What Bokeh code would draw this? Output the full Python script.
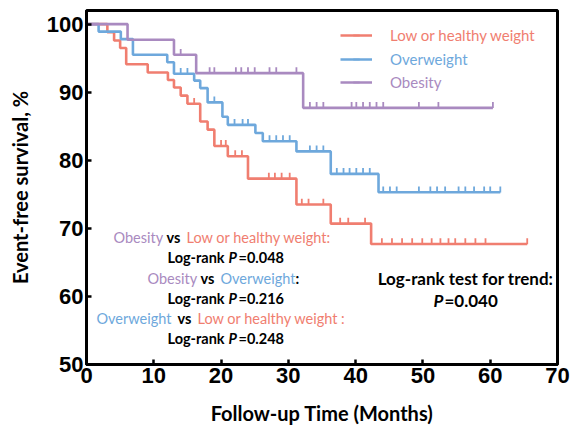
import numpy as np
from bokeh.plotting import figure
from bokeh.models import Range1d, Label, Legend, LegendItem, FixedTicker
from bokeh.embed import file_html
from bokeh.resources import INLINE

# ---------------- data ----------------
low_t = [0, 3.1, 4.1, 5.0, 5.9, 9.1, 12.1, 13.0, 14.0, 15.0, 16.9, 18.0, 19.0, 21.0, 24.0, 31.2, 36.3, 42.3, 65.5]
low_s = [100, 98.8, 97.6, 96.5, 94.1, 92.9, 91.8, 90.7, 89.5, 88.3, 85.7, 84.5, 82.1, 80.6, 77.3, 73.5, 70.7, 67.7, 67.7]
low_cens = [16.0, 20.0, 20.7, 22.1, 23.1, 27.1, 28.0, 29.0, 30.2, 32.0, 33.0, 35.2, 37.7, 38.9, 41.4,
            43.9, 45.4, 46.9, 48.4, 49.9, 51.3, 52.6, 53.8, 54.8, 56.3, 57.8, 59.3, 65.5]

over_t = [0, 1.8, 5.1, 6.9, 12.0, 13.0, 16.0, 16.9, 18.0, 20.2, 21.0, 25.1, 26.2, 31.2, 36.3, 43.4, 61.5]
over_s = [100, 98.9, 97.8, 95.5, 94.4, 92.7, 91.7, 90.6, 88.5, 86.4, 85.2, 84.0, 82.8, 81.3, 78.0, 75.3, 75.3]
over_cens = [14.0, 15.0, 19.0, 22.0, 23.2, 24.0, 27.2, 28.2, 29.2, 30.2, 33.2, 34.2, 35.2,
             37.2, 38.2, 39.1, 40.1, 41.1, 42.1, 44.1, 45.1, 46.1, 49.4, 51.1, 52.1, 53.3,
             55.3, 56.3, 57.6, 59.1, 60.0, 61.5]

obes_t = [0, 6.1, 13.0, 16.3, 32.2, 60.4]
obes_s = [100, 97.7, 95.5, 92.8, 87.7, 87.7]
obes_cens = [14.0, 18.3, 19.0, 22.2, 23.0, 24.0, 25.0, 27.2, 28.2, 31.2,
             33.2, 34.2, 35.2, 39.4, 40.1, 41.1, 42.1, 43.1, 44.1, 49.4, 52.3, 60.4]

group_names = ["Low or healthy weight", "Overweight", "Obesity"]
x_ticks = [0, 10, 20, 30, 40, 50, 60, 70]
y_ticks = [50, 60, 70, 80, 90, 100]

RED = "#F07E70"
BLUE = "#6EA8DC"
PURPLE = "#A98AC0"

# ---------------- figure ----------------
FL, FR, FT, FB = 86, 557, 10, 364
X_END, Y_START, Y_END = 70, 50, 102
p = figure(width=573, height=436, output_backend="svg", toolbar_location=None,
           x_range=Range1d(0, X_END), y_range=Range1d(Y_START, Y_END),
           min_border_left=FL, min_border_right=573 - FR, min_border_top=FT,
           min_border_bottom=436 - FB)
p.frame_width = FR - FL
p.frame_height = FB - FT
p.xgrid.visible = False
p.ygrid.visible = False
p.outline_line_color = "black"
p.outline_line_width = 3
p.background_fill_color = "white"
p.border_fill_color = "white"


def px2x(px):
    return (px - FL) / (FR - FL) * X_END


def py2y(py):
    return Y_START + (FB - py) / (FB - FT) * (Y_END - Y_START)


def surv_at(ts, ss, t):
    v = ss[0]
    for ti, si in zip(ts, ss):
        if ti <= t:
            v = si
    return v


legend_renderers = []
for ts, ss, cens, col in [(low_t, low_s, low_cens, RED), (over_t, over_s, over_cens, BLUE),
                          (obes_t, obes_s, obes_cens, PURPLE)]:
    r1 = p.step(ts, ss, mode="after", line_color=col, line_width=2.6)
    cy = [surv_at(ts, ss, c) + 0.42 for c in cens]
    r2 = p.scatter(cens, cy, marker="dash", angle=np.pi / 2, size=6, line_color=col,
                   line_width=1.8)
    legend_renderers.append((r1, r2, col))

# axes
for ax in (p.xaxis[0], p.yaxis[0]):
    ax.axis_line_width = 3
    ax.axis_line_color = "black"
    ax.major_tick_in = 5
    ax.major_tick_out = 0
    ax.major_tick_line_width = 2.5
    ax.minor_tick_line_color = None
    ax.major_label_text_font = "Liberation Sans"
    ax.major_label_text_font_style = "bold"
    ax.major_label_text_font_size = "22px"
    ax.major_label_text_color = "black"
    ax.axis_label_text_font = "Lato"
    ax.axis_label_text_font_style = "bold"
    ax.axis_label_text_font_size = "20px"
    ax.axis_label_text_color = "black"
p.xaxis.ticker = FixedTicker(ticks=x_ticks)
p.yaxis.ticker = FixedTicker(ticks=y_ticks)
p.xaxis.axis_label = "Follow-up Time (Months)"
p.yaxis.axis_label = "Event-free survival, %"
p.xaxis.major_label_standoff = 3
p.yaxis.major_label_standoff = 3
p.xaxis.axis_label_standoff = 15
p.yaxis.axis_label_standoff = 12

# legends (one per group to allow coloured labels)
leg_rows = [36, 60, 83]
for (r1, r2, col), name, row in zip(legend_renderers, group_names, leg_rows):
    lg = Legend(items=[LegendItem(label=name, renderers=[r1, r2])],
                location=(340 - FL, FB - row - 8), glyph_width=32, glyph_height=16,
                label_height=16, label_standoff=18, padding=0, margin=0, spacing=0,
                border_line_alpha=0, background_fill_alpha=0,
                label_text_font="Lato", label_text_font_size="15px",
                label_text_color=col)
    p.add_layout(lg, "center")


def lab(px, py, text, color="black", style="normal", size="14.5px", align="left"):
    p.add_layout(Label(x=px2x(px), y=py2y(py), text=text, text_color=color,
                       text_font="Lato", text_font_style=style, text_font_size=size,
                       text_align=align, text_baseline="middle"))


# comparison annotations
lab(113, 237, "Obesity", PURPLE)
lab(166, 237, "vs", style="bold")
lab(186, 237, "Low or healthy weight:", RED)
for yy, pv in [(257, "=0.048"), (298, "=0.216"), (338, "=0.248")]:
    lab(167, yy, "Log-rank", style="bold")
    lab(228, yy, "P", style="bold italic")
    lab(238, yy, pv, style="bold")
lab(147, 278, "Obesity", PURPLE)
lab(200, 278, "vs", style="bold")
lab(220, 278, "Overweight", BLUE)
lab(295, 278, ":", style="bold")
lab(96, 318, "Overweight", BLUE)
lab(177, 318, "vs", style="bold")
lab(197, 318, "Low or healthy weight :", RED)

lab(465, 278, "Log-rank test for trend:", style="bold", size="17px", align="center")
lab(433, 300, "P", style="bold italic", size="17px")
lab(444, 300, "=0.040", style="bold", size="17px")

open("out.html", "w").write(file_html(p, INLINE))
